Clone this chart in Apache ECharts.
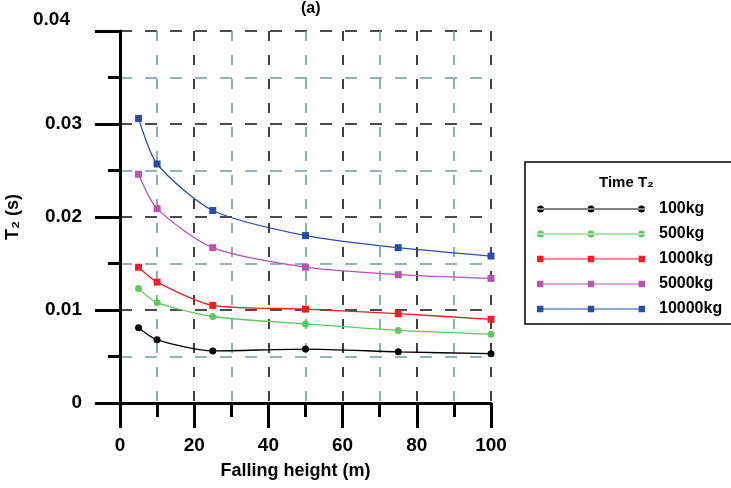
<!DOCTYPE html>
<html>
<head>
<meta charset="utf-8">
<style>html,body{margin:0;padding:0;background:#fff;}#c{width:731px;height:488px;}</style>
<script src="https://cdn.jsdelivr.net/npm/echarts@6/dist/echarts.min.js"></script>
</head>
<body>
<div id="c"></div>
<script>
// Data
const heights = [5, 10, 25, 50, 75, 100];
const t100 = [0.0081, 0.0068, 0.0056, 0.0058, 0.0055, 0.0053];
const t500 = [0.0123, 0.0108, 0.0093, 0.0085, 0.0078, 0.0074];
const t1000 = [0.0146, 0.0130, 0.0105, 0.0101, 0.0096, 0.0090];
const t5000 = [0.0246, 0.0209, 0.0167, 0.0146, 0.0138, 0.0134];
const t10000 = [0.0306, 0.0257, 0.0207, 0.0180, 0.0167, 0.0158];
const seriesNames = ['100kg', '500kg', '1000kg', '5000kg', '10000kg'];
const xTicks = [0, 20, 40, 60, 80, 100];
const yTicks = [0, 0.01, 0.02, 0.03, 0.04];

const colors = ['#000000', '#5ec85e', '#ee2024', '#b455b4', '#2a4ea8'];
const symbols = ['circle', 'circle', 'rect', 'rect', 'rect'];
const values = [t100, t500, t1000, t5000, t10000];

const lineBar = 'M0,3.4 L108,3.4 L108,4.6 L0,4.6 Z ';
const iconCircle = 'path://' + lineBar +
  'M0,4 a3.5,3.5 0 1,0 7,0 a3.5,3.5 0 1,0 -7,0 Z ' +
  'M50.5,4 a3.5,3.5 0 1,0 7,0 a3.5,3.5 0 1,0 -7,0 Z ' +
  'M101,4 a3.5,3.5 0 1,0 7,0 a3.5,3.5 0 1,0 -7,0 Z';
const iconRect = 'path://' + lineBar +
  'M0,0.8 L6.4,0.8 L6.4,7.2 L0,7.2 Z M50.8,0.8 L57.2,0.8 L57.2,7.2 L50.8,7.2 Z M101.6,0.8 L108,0.8 L108,7.2 L101.6,7.2 Z';

const font = '"Liberation Sans", Arial, sans-serif';
const gridBlue = '#7598a0';

const chart = echarts.init(document.getElementById('c'), null, {renderer: 'canvas'});
chart.setOption({
  animation: false,
  backgroundColor: '#ffffff',
  title: [
    {text: '(a)', left: 301, top: 1, padding: 0,
     textStyle: {fontFamily: font, fontSize: 16, fontWeight: 'bold', color: '#000'}},
    {text: 'Time T₂', left: 599, top: 175, padding: 0,
     textStyle: {fontFamily: font, fontSize: 15, fontWeight: 'bold', color: '#000'}}
  ],
  legend: {
    orient: 'vertical',
    left: 525, top: 162,
    padding: [39, 12, 7, 12],
    borderColor: '#000', borderWidth: 1.5,
    itemWidth: 108, itemHeight: 8, itemGap: 9,
    data: seriesNames.map((n, i) => ({name: n, icon: symbols[i] === 'rect' ? iconRect : iconCircle})),
    textStyle: {fontFamily: font, fontSize: 16, fontWeight: 'bold', color: '#000', padding: [0, 0, 0, 9]}
  },
  grid: {left: 120, right: 240, top: 31, bottom: 85, containLabel: false, outerBoundsMode: 'none'},
  xAxis: {
    type: 'value', min: 0, max: 100, interval: 20,
    name: 'Falling height (m)', nameLocation: 'middle', nameGap: 59,
    nameTextStyle: {fontFamily: font, fontSize: 18, fontWeight: 'bold', color: '#000', padding: [0, 20, 0, 0]},
    axisLine: {show: true, onZero: false, lineStyle: {color: '#000', width: 3}},
    axisTick: {show: true, length: 25, lineStyle: {color: '#000', width: 3}},
    minorTick: {show: true, splitNumber: 2, length: 14, lineStyle: {color: '#000', width: 3}},
    axisLabel: {margin: 33, fontFamily: font, fontSize: 19, fontWeight: 'bold', color: '#000',
      customValues: xTicks},
    splitLine: {show: true, lineStyle: {color: '#111', width: 1.6, type: [10, 14]}},
    minorSplitLine: {show: true, lineStyle: {color: gridBlue, width: 1.6, type: [10, 14]}}
  },
  yAxis: {
    type: 'value', min: 0, max: 0.04, interval: 0.01,
    name: 'T₂ (s)', nameLocation: 'middle', nameGap: 86,
    nameTextStyle: {fontFamily: font, fontSize: 18, fontWeight: 'bold', color: '#000'},
    axisLine: {show: true, onZero: false, lineStyle: {color: '#000', width: 3}},
    axisTick: {show: true, length: 25, lineStyle: {color: '#000', width: 3}},
    minorTick: {show: true, splitNumber: 2, length: 12, lineStyle: {color: '#000', width: 3}},
    axisLabel: {margin: 38, fontFamily: font, fontSize: 19, fontWeight: 'bold', color: '#000',
      formatter: function (v) {
        const s = String(+v.toFixed(4));
        return Math.abs(v - yTicks[yTicks.length - 1]) < 1e-9 ? '{top|' + s + '}' : s;
      },
      rich: {top: {fontFamily: font, fontSize: 19, fontWeight: 'bold', color: '#000', padding: [0, 12, 22, 0]}}
    },
    splitLine: {show: true, lineStyle: {color: '#111', width: 1.6, type: [12, 13]}},
    minorSplitLine: {show: true, lineStyle: {color: gridBlue, width: 1.6, type: [12, 13]}}
  },
  series: seriesNames.map((n, i) => ({
    name: n, type: 'line', smooth: 0.25,
    data: heights.map((h, j) => [h, values[i][j]]),
    symbol: symbols[i], symbolSize: 7,
    lineStyle: {color: colors[i], width: 1.3},
    itemStyle: {color: colors[i]},
    z: 3
  }))
});
</script>
</body>
</html>
